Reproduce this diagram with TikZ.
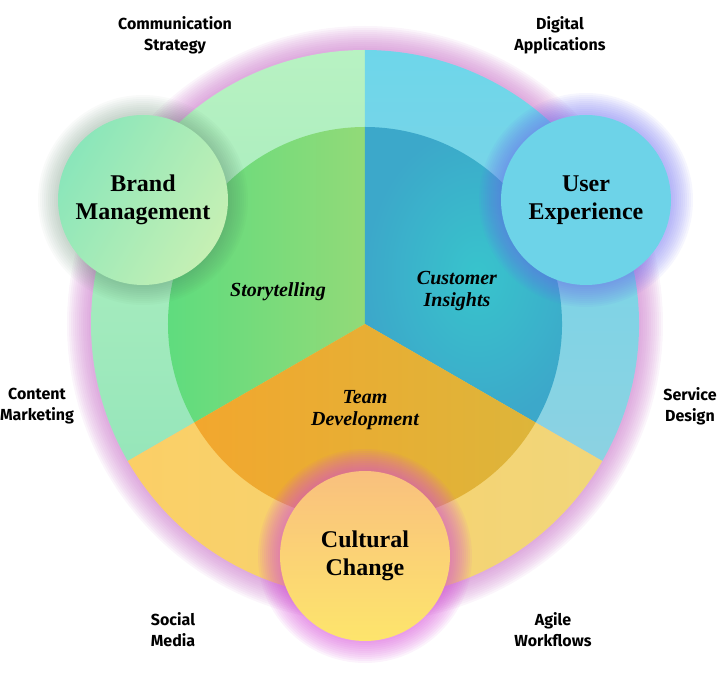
\documentclass[tikz,border=0pt]{standalone}
\usepackage{fontspec}
\setmainfont{Liberation Serif}
\newfontfamily\labelfont{Fira Sans}
\definecolor{haze}{HTML}{C873C8}
\definecolor{ringgreenA}{HTML}{B8F2C2}
\definecolor{ringgreenB}{HTML}{96E6BA}
\definecolor{ringblueA}{HTML}{6ED6EA}
\definecolor{ringblueB}{HTML}{8CD2E2}
\definecolor{ringyellowA}{HTML}{FBCF66}
\definecolor{ringyellowB}{HTML}{F1D67A}
\definecolor{coregreenA}{HTML}{5FDC7E}
\definecolor{coregreenB}{HTML}{92DA78}
\definecolor{coreblueA}{HTML}{38C4CC}
\definecolor{coreblueB}{HTML}{3CA8CA}
\definecolor{coreyellowA}{HTML}{F2A72E}
\definecolor{coreyellowB}{HTML}{DDB53A}
\definecolor{brandA}{HTML}{8AE6BA}
\definecolor{brandB}{HTML}{C6F0B4}
\definecolor{uxfill}{HTML}{6DD3E8}
\definecolor{cultureA}{HTML}{F9C07E}
\definecolor{cultureB}{HTML}{FDE56C}
\definecolor{brandglow}{HTML}{4E7A5E}
\definecolor{uxglow}{HTML}{6C6CF0}
\definecolor{cultureglow}{HTML}{D650D8}
\begin{document}
\begin{tikzpicture}[x=1pt,y=1pt,
    ringlabel/.style={font=\labelfont\bfseries\fontsize{16}{21}\selectfont, align=center},
    hublabel/.style={circle, minimum size=170pt, inner sep=0pt, align=center,
      font=\bfseries\fontsize{24}{28}\selectfont},
    slicelabel/.style={font=\bfseries\itshape\fontsize{20}{22}\selectfont, align=center}]
\useasboundingbox (-365,-374) rectangle (356,324);

% haze round the wheel
\foreach \k in {0,...,11}
  \fill[haze, opacity=0.07] (0,0) circle ({298-2*\k});

% outer ring
\shade[top color=ringgreenA, bottom color=ringgreenB] (0,0) -- (90:274) arc (90:210:274) -- cycle;
\shade[top color=ringblueA, bottom color=ringblueB] (0,0) -- (-30:274) arc (-30:90:274) -- cycle;
\shade[left color=ringyellowA, right color=ringyellowB] (0,0) -- (210:274) arc (210:330:274) -- cycle;

% inner slices
\shade[left color=coregreenA, right color=coregreenB] (0,0) -- (90:197) arc (90:210:197) -- cycle;
\shade[inner color=coreblueA, outer color=coreblueB] (0,0) -- (-30:197) arc (-30:90:197) -- cycle;
\shade[left color=coreyellowA, right color=coreyellowB] (0,0) -- (210:197) arc (210:330:197) -- cycle;

% glows of the hubs
\foreach \k in {0,...,10} {
  \fill[brandglow, opacity=0.035] (-222,124) circle ({105-2*\k});
  \fill[uxglow, opacity=0.06] (221,124) circle ({107-2*\k});
  \fill[cultureglow, opacity=0.07] (0,-232) circle ({107-2*\k});
}

% hubs
\node[hublabel, left color=brandA, right color=brandB, shading angle=60] (brand) at (-222,124) {Brand\\Management};
\node[hublabel, fill=uxfill] (ux) at (221,124) {User\\Experience};
\node[hublabel, top color=cultureA, bottom color=cultureB] (culture) at (0,-232) {Cultural\\Change};

% slice labels
\node[slicelabel] (story) at (-87,32) {Storytelling};
\node[slicelabel] (insight) at (92,33) {Customer\\Insights};
\node[slicelabel] (team) at (0,-86) {Team\\Development};

% ring labels
\node[ringlabel] (comm) at (-190,289) {Communication\\Strategy};
\node[ringlabel] (digital) at (195,289) {Digital\\Applications};
\node[ringlabel] (content) at (-328,-82) {Content\\Marketing};
\node[ringlabel] (service) at (325,-82) {Service\\Design};
\node[ringlabel] (social) at (-192,-306) {Social\\Media};
\node[ringlabel] (agile) at (188,-306) {Agile\\Workflows};
\end{tikzpicture}
\end{document}
